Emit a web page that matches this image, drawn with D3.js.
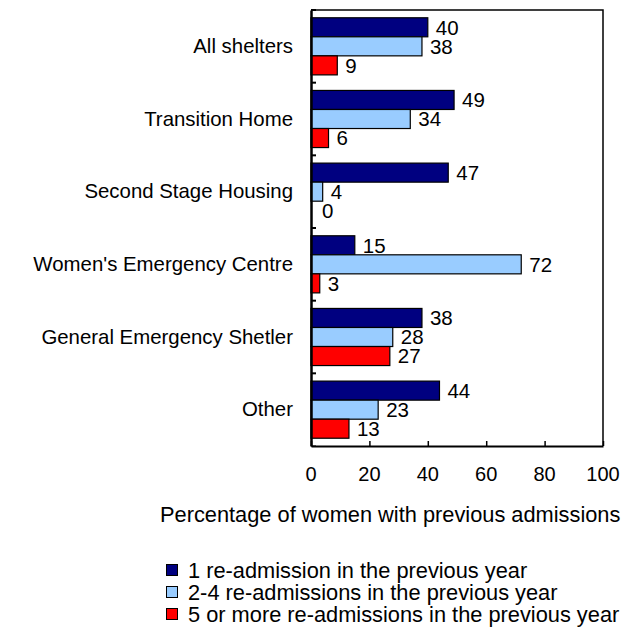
<!DOCTYPE html>
<html>
<head>
<meta charset="utf-8">
<script src="https://cdn.jsdelivr.net/npm/d3@7"></script>
<style>
  body { margin: 0; background: #fff; }
  svg text { font-family: Arial, "Liberation Sans", sans-serif; fill: #000; }
</style>
</head>
<body>
<svg id="chart" width="630" height="631"></svg>
<script>
// Shelter re-admissions, horizontal grouped bars

const categories = ["All shelters", "Transition Home", "Second Stage Housing",
  "Women's Emergency Centre", "General Emergency Shetler", "Other"];
const series = ["1 re-admission in the previous year",
  "2-4 re-admissions in the previous year",
  "5 or more re-admissions in the previous year"];
const oneReadmission = [40, 49, 47, 15, 38, 44];
const twoToFour = [38, 34, 4, 72, 28, 23];
const fiveOrMore = [9, 6, 0, 3, 27, 13];
const xTicks = [0, 20, 40, 60, 80, 100];
const colors = ["#000080", "#99ccff", "#ff0000"];

const values = [oneReadmission, twoToFour, fiveOrMore];

const svg = d3.select("#chart");
const plotL = 311, plotR = 603, plotT = 10, plotB = 446;
const fontSize = 20;
const bigFont = 21.8;

const x = d3.scaleLinear().domain([0, 100]).range([plotL, plotR]);
const y = d3.scaleBand().domain(categories).range([plotT, plotB]).padding(0);
const pad = y.bandwidth() * 0.107;
const ySub = d3.scaleBand().domain(d3.range(series.length))
  .range([pad, y.bandwidth() - pad]).padding(0);

// frame (top + right)
svg.append("path")
  .attr("d", `M${plotL},${plotT}H${plotR}V${plotB}`)
  .attr("fill", "none").attr("stroke", "#000").attr("stroke-width", 1.5);

// bars
categories.forEach((cat, ci) => {
  const g = svg.append("g").attr("transform", `translate(0,${y(cat)})`);
  values.forEach((vals, si) => {
    const v = vals[ci];
    if (v > 0) {
      g.append("rect")
        .attr("x", x(0)).attr("y", ySub(si))
        .attr("width", x(v) - x(0)).attr("height", ySub.bandwidth())
        .attr("fill", colors[si])
        .attr("stroke", "#000").attr("stroke-width", 1.2);
    }
    g.append("text")
      .attr("x", x(v) + (v > 0 ? 8 : 11))
      .attr("y", ySub(si) + ySub.bandwidth() / 2)
      .attr("dy", "0.36em")
      .attr("font-size", 20.5)
      .text(v);
  });
  svg.append("text")
    .attr("x", 293)
    .attr("y", y(cat) + y.bandwidth() / 2)
    .attr("dy", "0.33em")
    .attr("text-anchor", "end")
    .attr("font-size", 20.4)
    .text(cat);
});

// left axis with ticks at category boundaries (pointing inward)
const yAxis = d3.axisRight(y).tickSize(5).tickFormat("").tickSizeOuter(0);
const gy = svg.append("g").attr("transform", `translate(${plotL},0)`).call(yAxis);
gy.selectAll(".tick line").attr("transform", `translate(0,${-y.bandwidth() / 2})`);
gy.append("line").attr("x1", 0).attr("x2", 5).attr("y1", plotB).attr("y2", plotB)
  .attr("stroke", "#000");
gy.select(".domain").attr("stroke-width", 2.5);
gy.selectAll(".tick line").attr("stroke-width", 2);

// bottom axis, ticks inward
const xAxis = d3.axisTop(x).tickValues(xTicks).tickSize(5).tickSizeOuter(0).tickFormat("");
const gx = svg.append("g").attr("transform", `translate(0,${plotB})`).call(xAxis);
gx.select(".domain").attr("stroke-width", 2);
gx.selectAll(".tick line").attr("stroke-width", 1.5);

svg.append("g").selectAll("text").data(xTicks).join("text")
  .attr("x", d => x(d)).attr("y", 481)
  .attr("text-anchor", "middle")
  .attr("font-size", fontSize)
  .text(d => d);

// axis title
svg.append("text")
  .attr("x", 160).attr("y", 522)
  .attr("font-size", bigFont)
  .text("Percentage of women with previous admissions");

// legend
const legend = svg.append("g").attr("transform", "translate(166,570)");
series.forEach((s, i) => {
  const row = legend.append("g").attr("transform", `translate(0,${i * 22})`);
  row.append("rect").attr("x", 0.5).attr("y", -5.5).attr("width", 11).attr("height", 11)
    .attr("fill", colors[i]).attr("stroke", "#000").attr("stroke-width", 1);
  row.append("text").attr("x", 22).attr("y", 0).attr("dy", "0.36em")
    .attr("font-size", bigFont).text(s);
});
</script>
</body>
</html>
